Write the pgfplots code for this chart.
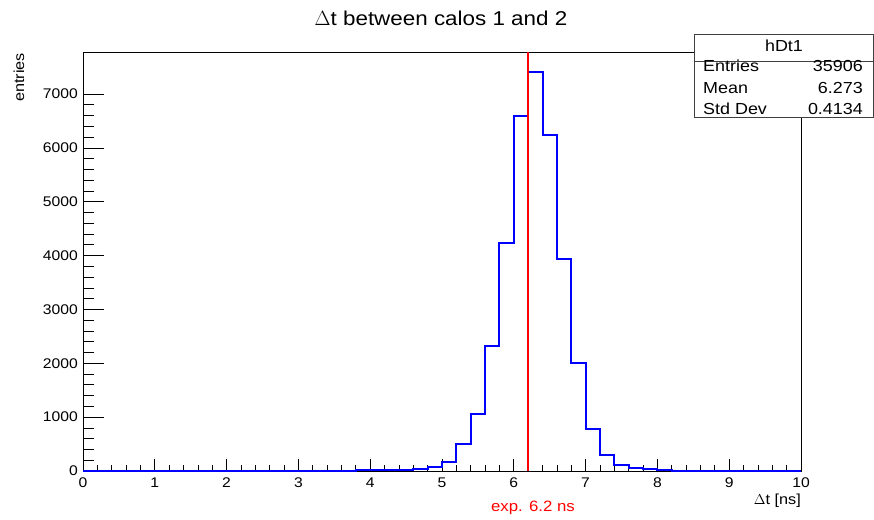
\documentclass[border=0pt]{standalone}
\usepackage{pgfplots}
\pgfplotsset{compat=1.18}
\usepackage{fontspec}
\setmainfont{Liberation Sans}[FakeStretch=1.12]
\definecolor{rootblue}{RGB}{0,0,255}
\definecolor{rootred}{RGB}{255,0,0}
\begin{document}
\begin{tikzpicture}
\useasboundingbox (0,0) rectangle (874bp,520bp);
\fill[white] (0,0) rectangle (874bp,520bp);
\begin{axis}[
  at={(83bp,49bp)}, anchor=south west,
  scale only axis, width=718bp, height=419bp,
  xmin=0, xmax=10, ymin=0, ymax=7780,
  axis line style={line width=0.8bp},
  tick align=inside,
  xtick pos=bottom, ytick pos=left,
  xtick={0,1,...,10}, ytick={0,1000,...,7000},
  minor x tick num=4, minor y tick num=4,
  major tick length=12bp, minor tick length=6bp,
  tick style={line width=0.7bp, black},
  ytick style={draw=none},
  ymajorgrids=true, yminorgrids=true,
  major y grid style={line width=0.7bp, black, dash pattern=on 21bp off 2000bp},
  minor y grid style={line width=0.7bp, black, dash pattern=on 11bp off 2000bp},
  /pgf/number format/assume math mode=true,
  scaled y ticks=false,
  /pgf/number format/1000 sep={},
  tick label style={font=\fontsize{14bp}{16bp}\selectfont},
  xticklabel style={anchor=north, inner sep=0pt, yshift=-7bp},
  yticklabel style={anchor=east, inner sep=0pt, xshift=-5bp},
  clip=false,
]
\addplot[const plot, draw=rootblue, line width=2bp] coordinates {
(0,0) (3.8,10) (4.0,12) (4.2,15) (4.4,20) (4.6,30) (4.8,80) (5.0,170)
(5.2,500) (5.4,1050) (5.6,2330) (5.8,4240) (6.0,6600) (6.2,7410)
(6.4,6230) (6.6,3930) (6.8,2010) (7.0,780) (7.2,300) (7.4,115)
(7.6,60) (7.8,30) (8.0,15) (8.2,5) (8.4,2) (8.6,0) (10,0)
};
\addplot[draw=rootred, line width=1.6bp] coordinates {(6.2,0) (6.2,7780)};
\end{axis}
% title and axis titles
\node[font=\fontsize{20bp}{24bp}\selectfont] at (441bp,502bp) {$\Delta$t between calos 1 and 2};
\node[font=\fontsize{14.5bp}{17bp}\selectfont, rotate=90, anchor=base east, inner sep=0pt] at (24bp,467bp) {entries};
\node[font=\fontsize{14.5bp}{17bp}\selectfont, anchor=base east, inner sep=0pt] at (801bp,16bp) {$\Delta$t [ns]};
\node[font=\fontsize{15bp}{18bp}\selectfont, anchor=base, inner sep=0pt, text=rootred] at (533bp,9bp) {exp. 6.2 ns};
% stats box
\draw[fill=white, line width=0.8bp, draw=black!75] (694bp,403bp) rectangle (873bp,486bp);
\draw[line width=0.8bp, draw=black!75] (694bp,459bp) -- (873bp,459bp);
\begin{scope}[every node/.style={font=\fontsize{16bp}{19bp}\selectfont, inner sep=0pt}]
\node[anchor=base] at (784bp,468bp) {hDt1};
\node[anchor=base west] at (703bp,448.3bp) {Entries};
\node[anchor=base east] at (863bp,448.3bp) {35906};
\node[anchor=base west] at (703bp,426.7bp) {Mean};
\node[anchor=base east] at (863bp,426.7bp) {6.273};
\node[anchor=base west] at (703bp,405.7bp) {Std Dev};
\node[anchor=base east] at (863bp,405.7bp) {0.4134};
\end{scope}
\end{tikzpicture}
\end{document}
